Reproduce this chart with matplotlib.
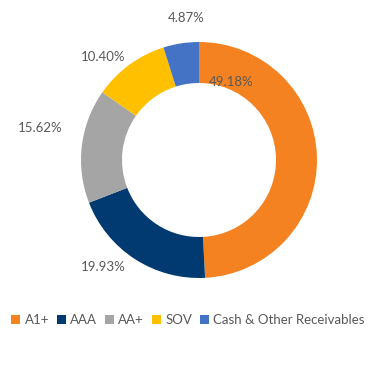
import matplotlib
matplotlib.use("Agg")
import matplotlib.pyplot as plt

categories = ["A1+", "AAA", "AA+", "SOV", "Cash & Other Receivables"]
values = [49.18, 19.93, 15.62, 10.40, 4.87]
labels = ["49.18%", "19.93%", "15.62%", "10.40%", "4.87%"]
colors = ["#F58220", "#003A70", "#A5A5A5", "#FFC000", "#4472C4"]

W, H = 369, 390
fig = plt.figure(figsize=(W / 100, H / 100), dpi=100)
ax = fig.add_axes([0, 0, 1, 1])

cx, cy = 199, H - 160
R = 118
wedges, _ = ax.pie(values, colors=colors, startangle=90, counterclock=False,
                   center=(cx, cy), radius=R,
                   wedgeprops=dict(width=41, linewidth=0))
ax.set_xlim(0, W)
ax.set_ylim(0, H)
ax.set_aspect("equal")
ax.axis("off")

txt_color = "#595959"
label_pos = [(231, 82), (103, 267), (40, 128), (103, 57), (186, 18)]
for lab, (x, y) in zip(labels, label_pos):
    ax.text(x, H - y, lab, ha="center", va="center", fontsize=9.5,
            color=txt_color, family="Lato")

leg = fig.legend(wedges, categories, loc="center", bbox_to_anchor=(188 / W, 1 - 320 / H),
                 ncol=5, frameon=False, handlelength=0.65, handleheight=0.65,
                 handletextpad=0.35, columnspacing=0.6,
                 prop=dict(family="Lato", size=9.5))
for t in leg.get_texts():
    t.set_color(txt_color)

fig.savefig("out.png", dpi=100)
